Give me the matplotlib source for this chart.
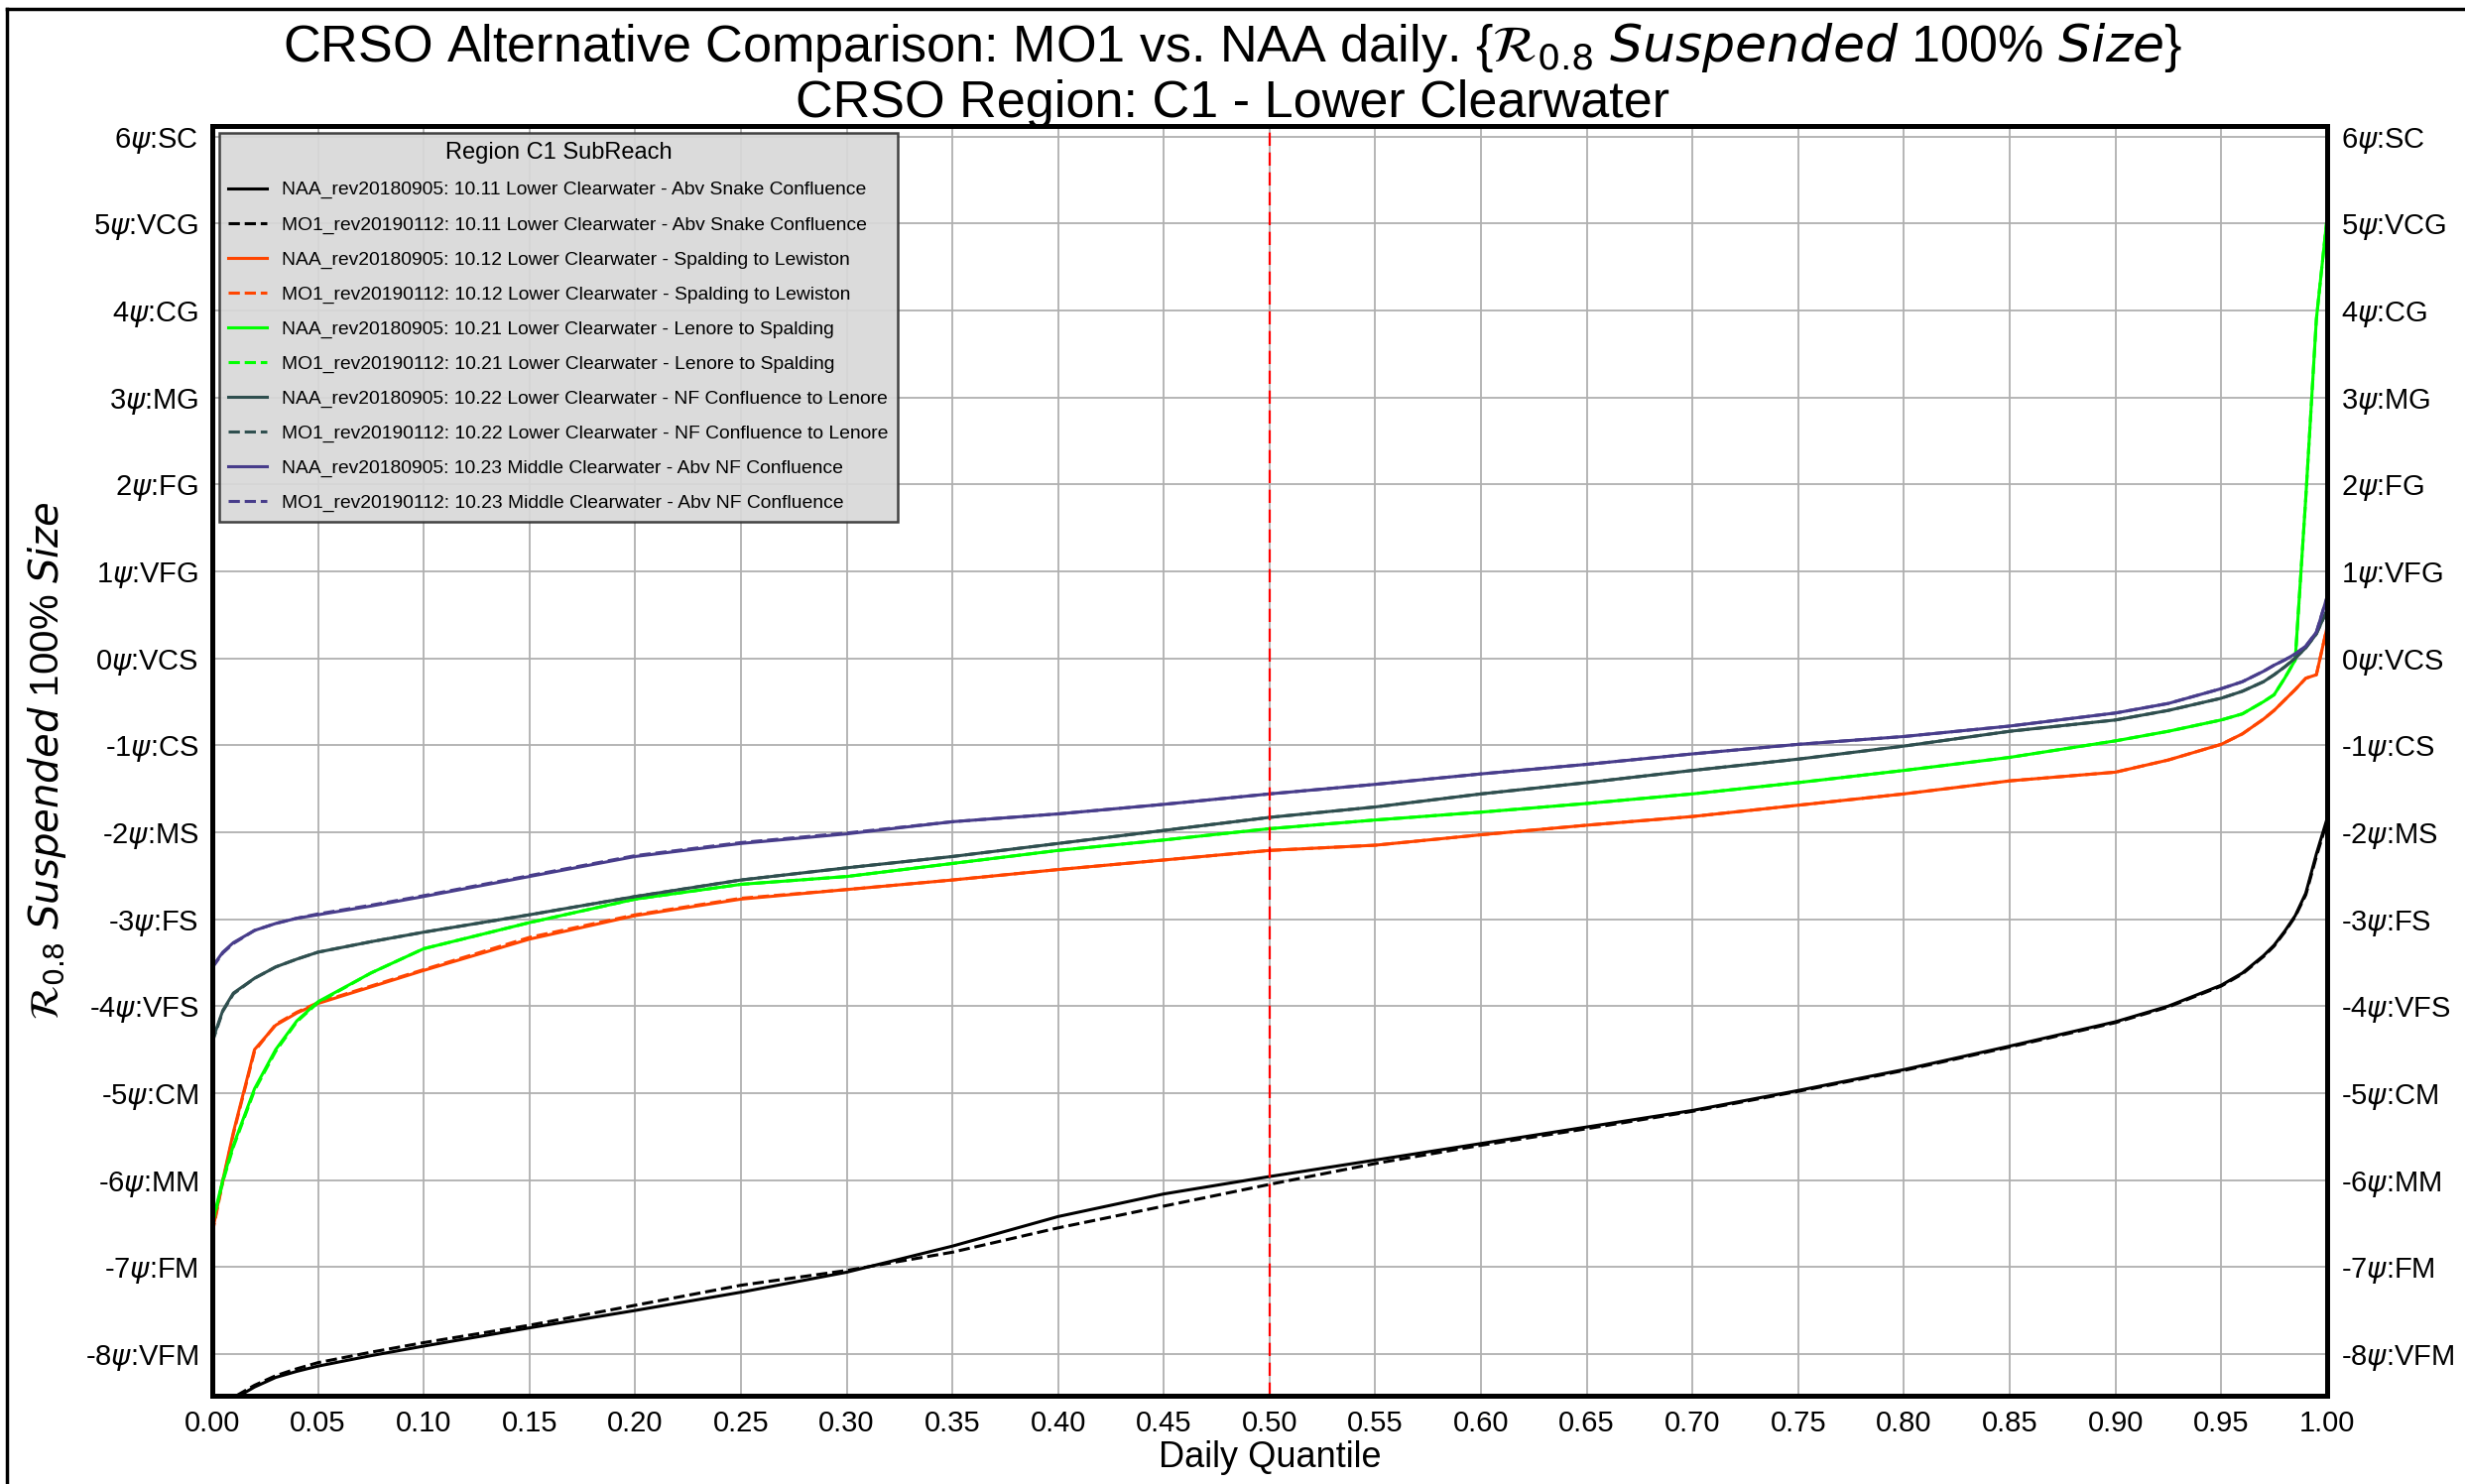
import numpy as np
import matplotlib
matplotlib.use("Agg")
import matplotlib.pyplot as plt
from matplotlib.lines import Line2D

plt.rcParams['font.family'] = ['Liberation Sans', 'DejaVu Sans']
plt.rcParams['mathtext.fontset'] = 'dejavusans'

# daily quantile positions
quantile = [0.0, 0.005, 0.01, 0.02, 0.03, 0.04, 0.05, 0.075, 0.10, 0.15, 0.20, 0.25,
            0.30, 0.35, 0.40, 0.45, 0.50, 0.55, 0.60, 0.65, 0.70, 0.75, 0.80, 0.85,
            0.90, 0.925, 0.95, 0.96, 0.97, 0.975, 0.98, 0.985, 0.99, 0.995, 1.0]

# 10.11 Lower Clearwater - Abv Snake Confluence
naa_1011 = [-8.75, -8.62, -8.52, -8.38, -8.27, -8.20, -8.14, -8.02, -7.91, -7.70, -7.50, -7.29,
            -7.06, -6.76, -6.42, -6.16, -5.96, -5.77, -5.58, -5.39, -5.20, -4.97, -4.73, -4.46,
            -4.18, -4.00, -3.76, -3.62, -3.42, -3.30, -3.14, -2.96, -2.70, -2.25, -1.85]
mo1_1011 = [-8.72, -8.60, -8.50, -8.36, -8.25, -8.17, -8.10, -7.98, -7.87, -7.67, -7.44, -7.21,
            -7.04, -6.83, -6.55, -6.30, -6.05, -5.81, -5.60, -5.41, -5.21, -4.98, -4.74, -4.47,
            -4.19, -4.01, -3.77, -3.63, -3.43, -3.31, -3.15, -2.97, -2.72, -2.28, -1.88]

# 10.12 Lower Clearwater - Spalding to Lewiston
naa_1012 = [-6.60, -6.00, -5.45, -4.50, -4.22, -4.08, -3.97, -3.78, -3.59, -3.23, -2.96, -2.77,
            -2.66, -2.55, -2.43, -2.32, -2.21, -2.15, -2.03, -1.92, -1.82, -1.69, -1.56, -1.41,
            -1.31, -1.17, -0.99, -0.87, -0.70, -0.60, -0.48, -0.36, -0.23, -0.19, 0.35]
mo1_1012 = [-6.62, -6.02, -5.47, -4.52, -4.21, -4.07, -3.96, -3.77, -3.58, -3.21, -2.95, -2.76,
            -2.66, -2.55, -2.43, -2.32, -2.21, -2.15, -2.03, -1.92, -1.82, -1.69, -1.56, -1.41,
            -1.31, -1.17, -0.99, -0.87, -0.70, -0.60, -0.48, -0.36, -0.23, -0.19, 0.35]

# 10.21 Lower Clearwater - Lenore to Spalding
naa_1021 = [-6.50, -6.00, -5.60, -4.95, -4.50, -4.17, -3.95, -3.62, -3.34, -3.04, -2.77, -2.60,
            -2.51, -2.36, -2.21, -2.09, -1.96, -1.86, -1.77, -1.67, -1.56, -1.43, -1.29, -1.14,
            -0.95, -0.84, -0.71, -0.64, -0.50, -0.42, -0.23, -0.02, 1.85, 3.90, 5.05]
mo1_1021 = [-6.52, -6.02, -5.62, -4.97, -4.52, -4.18, -3.96, -3.62, -3.34, -3.04, -2.77, -2.60,
            -2.51, -2.36, -2.21, -2.09, -1.96, -1.86, -1.77, -1.67, -1.56, -1.43, -1.29, -1.14,
            -0.95, -0.84, -0.71, -0.64, -0.50, -0.42, -0.23, -0.02, 1.85, 3.90, 5.05]

# 10.22 Lower Clearwater - NF Confluence to Lenore
naa_1022 = [-4.40, -4.05, -3.85, -3.68, -3.55, -3.46, -3.38, -3.26, -3.15, -2.95, -2.74, -2.55,
            -2.41, -2.28, -2.13, -1.98, -1.83, -1.71, -1.56, -1.43, -1.29, -1.16, -1.01, -0.84,
            -0.71, -0.60, -0.46, -0.38, -0.27, -0.19, -0.10, 0.00, 0.12, 0.28, 0.55]
mo1_1022 = [-4.42, -4.06, -3.86, -3.68, -3.55, -3.46, -3.38, -3.26, -3.15, -2.95, -2.74, -2.55,
            -2.41, -2.28, -2.13, -1.98, -1.83, -1.71, -1.56, -1.43, -1.29, -1.16, -1.01, -0.84,
            -0.71, -0.60, -0.46, -0.38, -0.27, -0.19, -0.10, 0.00, 0.12, 0.28, 0.55]

# 10.23 Middle Clearwater - Abv NF Confluence
naa_1023 = [-3.55, -3.38, -3.27, -3.13, -3.05, -2.99, -2.95, -2.85, -2.74, -2.51, -2.28, -2.13,
            -2.02, -1.88, -1.79, -1.68, -1.56, -1.45, -1.33, -1.22, -1.10, -0.99, -0.90, -0.78,
            -0.63, -0.52, -0.35, -0.27, -0.15, -0.08, -0.02, 0.05, 0.14, 0.30, 0.70]
mo1_1023 = [-3.56, -3.39, -3.28, -3.13, -3.05, -2.99, -2.94, -2.84, -2.73, -2.50, -2.27, -2.12,
            -2.01, -1.88, -1.79, -1.68, -1.56, -1.45, -1.33, -1.22, -1.10, -0.99, -0.90, -0.78,
            -0.63, -0.52, -0.35, -0.27, -0.15, -0.08, -0.02, 0.05, 0.14, 0.30, 0.70]

reaches = ["10.11 Lower Clearwater - Abv Snake Confluence",
           "10.12 Lower Clearwater - Spalding to Lewiston",
           "10.21 Lower Clearwater - Lenore to Spalding",
           "10.22 Lower Clearwater - NF Confluence to Lenore",
           "10.23 Middle Clearwater - Abv NF Confluence"]
colors = ["black", "orangered", "lime", "darkslategray", "darkslateblue"]
naa_series = [naa_1011, naa_1012, naa_1021, naa_1022, naa_1023]
mo1_series = [mo1_1011, mo1_1012, mo1_1021, mo1_1022, mo1_1023]

psi_values = [6, 5, 4, 3, 2, 1, 0, -1, -2, -3, -4, -5, -6, -7, -8]
psi_names = ["SC", "VCG", "CG", "MG", "FG", "VFG", "VCS", "CS", "MS", "FS",
             "VFS", "CM", "MM", "FM", "VFM"]
psi_labels = [r"%d$\psi$:%s" % (v, n) for v, n in zip(psi_values, psi_names)]

fig = plt.figure(figsize=(24.85, 14.96), dpi=100)
fig.subplots_adjust(left=0.0861, right=0.944, top=0.9151, bottom=0.0595)
ax = fig.add_subplot(111)

for name, c, naa, mo1 in zip(reaches, colors, naa_series, mo1_series):
    ax.plot(quantile, naa, color=c, lw=2.2, ls='-', label="NAA_rev20180905: " + name)
    ax.plot(quantile, mo1, color=c, lw=2.2, ls='--', label="MO1_rev20190112: " + name)

ax.axvline(0.5, color='red', lw=1.6, ls=(0, (6, 3)))

ax.set_xlim(0, 1)
ax.set_ylim(-8.48, 6.12)
ax.set_xticks(np.arange(0, 1.0001, 0.05))
ax.set_xticklabels(["%.2f" % t for t in np.arange(0, 1.0001, 0.05)])
ax.set_yticks(psi_values)
ax.set_yticklabels(psi_labels)
ax.grid(True, color='#b0b0b0', lw=1.3)
ax.tick_params(axis='both', length=0, labelsize=21, pad=10)
for s in ax.spines.values():
    s.set_linewidth(3.5)
    s.set_color('black')

ax2 = ax.twinx()
ax2.set_ylim(ax.get_ylim())
ax2.set_yticks(psi_values)
ax2.set_yticklabels(psi_labels)
ax2.tick_params(axis='y', length=0, labelsize=21, pad=10)
for s in ax2.spines.values():
    s.set_linewidth(3.5)

ax.set_xlabel("Daily Quantile", fontsize=26, labelpad=2)
ax.set_ylabel(r"$\mathcal{R}_{0.8}$ $\it{Suspended}$ 100% $\it{Size}$", fontsize=29, labelpad=12)

leg = ax.legend(loc='upper left', bbox_to_anchor=(0.0, 1.0), borderaxespad=0.35, fontsize=13.9,
                title="Region C1 SubReach", title_fontsize=17, labelspacing=0.9,
                facecolor='#d8d8d8', edgecolor='#333333', framealpha=0.92,
                fancybox=False, borderpad=0.5, handlelength=2.0)
leg.get_frame().set_linewidth(1.8)

fig.suptitle("CRSO Alternative Comparison: MO1 vs. NAA daily. "
             r"{$\mathcal{R}_{0.8}$ $\it{Suspended}$ 100% $\it{Size}$}" "\n"
             "CRSO Region: C1 - Lower Clearwater",
             fontsize=37.5, x=0.5, y=0.986, linespacing=1.12)

# figure frame (left and top edges of the screenshot)
fig.add_artist(Line2D([0.003, 0.003], [0, 0.994], transform=fig.transFigure, color='black', lw=2.5))
fig.add_artist(Line2D([0.003, 1.0], [0.994, 0.994], transform=fig.transFigure, color='black', lw=2.5))

fig.savefig("out.png", dpi=100)
